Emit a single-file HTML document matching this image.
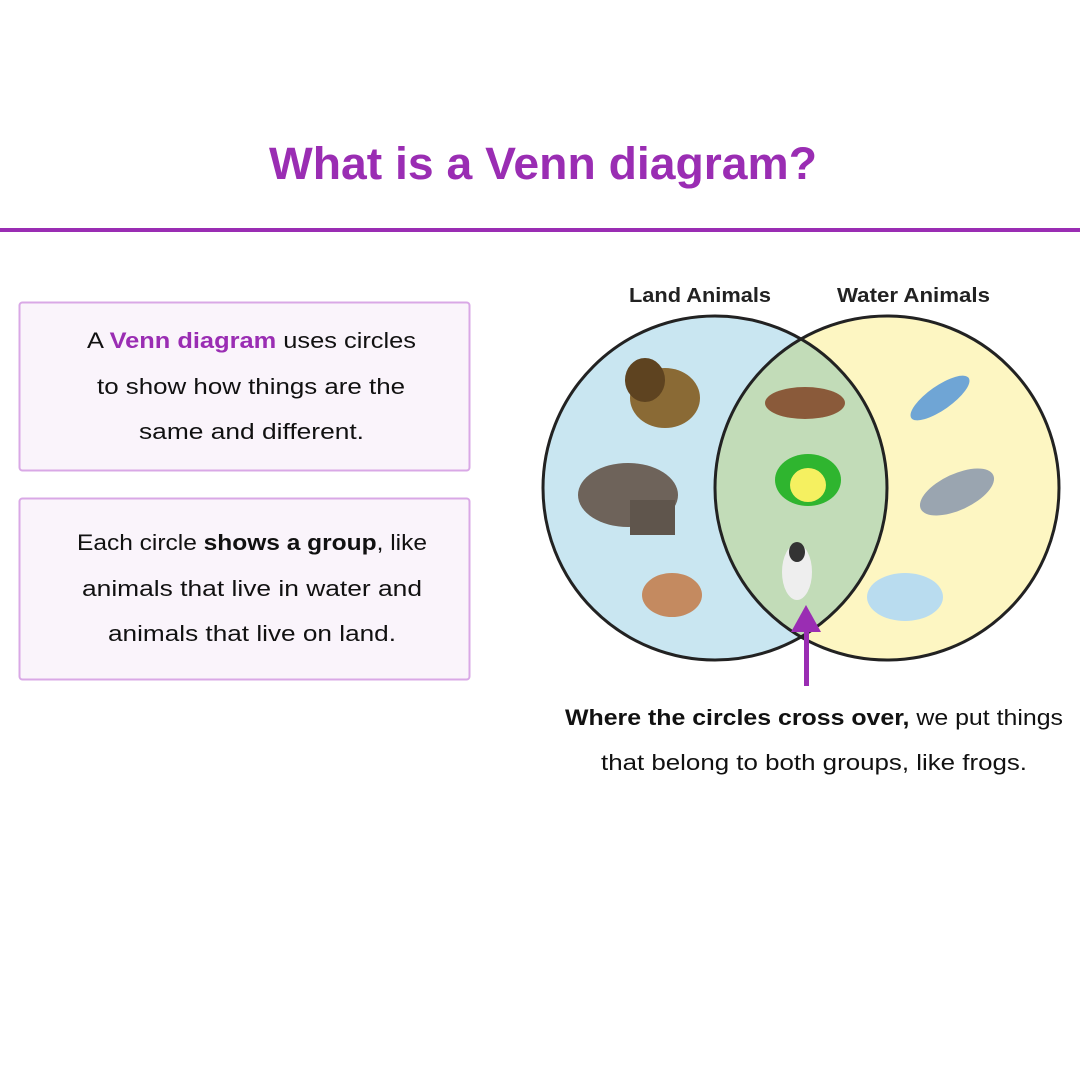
<!DOCTYPE html>
<html><head><meta charset="utf-8"><style>
html,body{margin:0;padding:0;background:#fff;}
svg{display:block;}
text{font-family:"Liberation Sans",sans-serif;}
</style></head><body>
<svg width="1080" height="1080" viewBox="0 0 1080 1080" xmlns="http://www.w3.org/2000/svg">
<rect width="1080" height="1080" fill="#fff"/>
<text x="543" y="179" text-anchor="middle" font-size="45" font-weight="bold" fill="#9a2db3" textLength="548" lengthAdjust="spacingAndGlyphs">What is a Venn diagram?</text>
<rect x="0" y="228" width="1080" height="4" fill="#9a2db3"/>

<rect x="19.5" y="302.5" width="450" height="168" rx="3" fill="#faf4fb" stroke="#d9a8e6" stroke-width="2"/>
<g font-size="22" fill="#111">
<text x="87" y="348" textLength="329" lengthAdjust="spacingAndGlyphs"><tspan>A </tspan><tspan font-weight="bold" fill="#9a2db3">Venn diagram</tspan><tspan> uses circles</tspan></text>
<text x="97" y="394" textLength="308" lengthAdjust="spacingAndGlyphs">to show how things are the</text>
<text x="139" y="439" textLength="225" lengthAdjust="spacingAndGlyphs">same and different.</text>
</g>
<rect x="19.5" y="498.5" width="450" height="181" rx="3" fill="#faf4fb" stroke="#d9a8e6" stroke-width="2"/>
<g font-size="22" fill="#111">
<text x="77" y="550" textLength="350" lengthAdjust="spacingAndGlyphs"><tspan>Each circle </tspan><tspan font-weight="bold">shows a group</tspan><tspan>, like</tspan></text>
<text x="82" y="596" textLength="340" lengthAdjust="spacingAndGlyphs">animals that live in water and</text>
<text x="108" y="641" textLength="288" lengthAdjust="spacingAndGlyphs">animals that live on land.</text>
</g>

<text x="629" y="302" font-size="20" font-weight="bold" fill="#222" textLength="142" lengthAdjust="spacingAndGlyphs">Land Animals</text>
<text x="837" y="302" font-size="20" font-weight="bold" fill="#222" textLength="153" lengthAdjust="spacingAndGlyphs">Water Animals</text>

<defs><clipPath id="lc"><circle cx="715" cy="488" r="172"/></clipPath></defs>
<circle cx="715" cy="488" r="172" fill="#c9e6f1"/>
<circle cx="887" cy="488" r="172" fill="#fdf6c2"/>
<circle cx="887" cy="488" r="172" fill="#c2dcb8" clip-path="url(#lc)"/>
<circle cx="715" cy="488" r="172" fill="none" stroke="#222" stroke-width="3"/>
<circle cx="887" cy="488" r="172" fill="none" stroke="#222" stroke-width="3"/>

<ellipse cx="665" cy="398" rx="35" ry="30" fill="#8a6a35"/>
<ellipse cx="645" cy="380" rx="20" ry="22" fill="#5e4320"/>
<ellipse cx="628" cy="495" rx="50" ry="32" fill="#6e635a"/>
<rect x="630" y="500" width="45" height="35" fill="#5f554c"/>
<ellipse cx="672" cy="595" rx="30" ry="22" fill="#c48a60"/>
<ellipse cx="805" cy="403" rx="40" ry="16" fill="#8a5a3a"/>
<ellipse cx="808" cy="480" rx="33" ry="26" fill="#2fb52f"/>
<ellipse cx="808" cy="485" rx="18" ry="17" fill="#f5f060"/>
<ellipse cx="797" cy="572" rx="15" ry="28" fill="#eee"/>
<ellipse cx="797" cy="552" rx="8" ry="10" fill="#333"/>
<ellipse cx="940" cy="398" rx="35" ry="12" fill="#6fa5d5" transform="rotate(-35 940 398)"/>
<ellipse cx="957" cy="492" rx="40" ry="18" fill="#9aa5b0" transform="rotate(-25 957 492)"/>
<ellipse cx="905" cy="597" rx="38" ry="24" fill="#b9dcef"/>

<rect x="804" y="625" width="5" height="61" fill="#9a2db3"/>
<polygon points="806,605 791,632 821,632" fill="#9a2db3"/>

<g font-size="22" fill="#111">
<text x="565" y="725" textLength="498" lengthAdjust="spacingAndGlyphs"><tspan font-weight="bold">Where the circles cross over,</tspan><tspan> we put things</tspan></text>
<text x="601" y="770" textLength="426" lengthAdjust="spacingAndGlyphs">that belong to both groups, like frogs.</text>
</g>
</svg>
</body></html>
